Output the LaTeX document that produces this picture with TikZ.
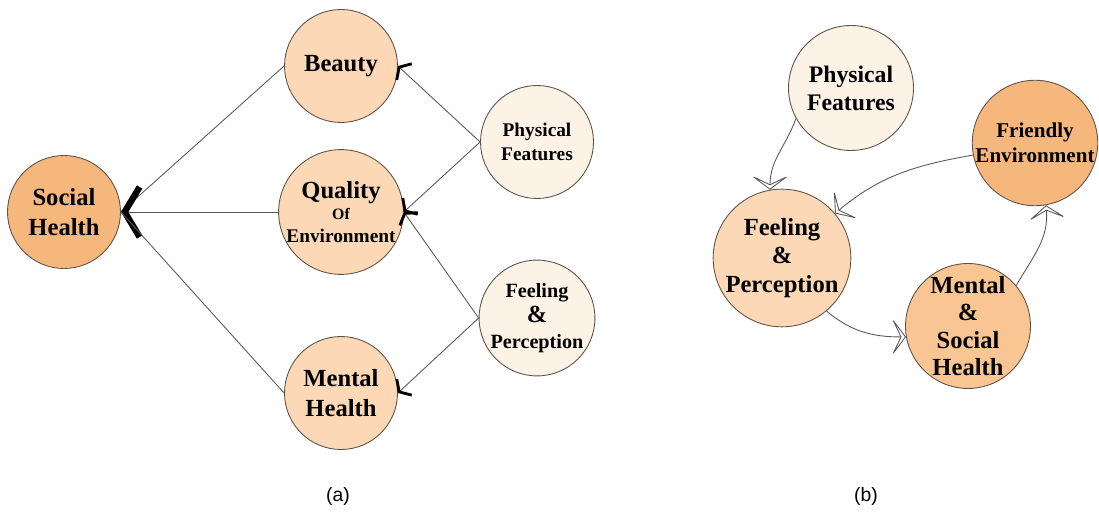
\documentclass[tikz,border=0pt]{standalone}
\usepackage{fontspec}
\setmainfont{Liberation Serif}
\setsansfont{Liberation Sans}
\usetikzlibrary{arrows.meta}

\definecolor{deeppeach}{HTML}{F5B77C}
\definecolor{midpeach}{HTML}{F8C593}
\definecolor{peach}{HTML}{FCD8B6}
\definecolor{palepeach}{HTML}{FDF2E6}
\definecolor{rimgray}{HTML}{5E5248}

\begin{document}
\begin{tikzpicture}
  [
    x = 0.02cm, y = -0.02cm,
    bubble/.style = {circle, draw = rimgray, line width = 0.5pt, inner sep = 0pt, align = center},
    small/.style = {bubble, minimum size = 2.26cm},
    large/.style = {bubble, minimum size = 2.5cm},
    pt/.style 2 args = {font = \bfseries\fontsize{#1}{#2}\selectfont},
    link/.style = {draw = black!65, line width = 0.5pt},
    hub/.style = {-{Straight Barb[length = 3mm, width = 10mm, line width = 3.6pt, color = black]}},
    tip/.style = {-{Straight Barb[length = 1.4mm, width = 4.4mm, line width = 1.6pt, color = black]}},
    hollow/.style = {-{Stealth[open, fill = white, length = 3mm, width = 8mm, inset = 1.9mm]}},
  ]

  \useasboundingbox (0,0) rectangle (1099,526);

  \node [small, fill = deeppeach, pt = {14}{17}] (social) at (64,212) {Social\\Health};
  \node [small, fill = peach, pt = {14}{17}] (beauty) at (341,66) {Beauty};
  \node [small, fill = peach, pt = {14}{17}] (quality) at (341,212)
    {Quality\\[-5pt]{\fontsize{9}{10}\selectfont Of}\\[-4pt]{\fontsize{11}{12}\selectfont Environment}};
  \node [small, fill = peach, pt = {14}{17}] (mental) at (341,393) {Mental\\Health};
  \node [small, fill = palepeach, pt = {11}{14}] (physa) at (537,142) {Physical\\Features};
  \node [small, fill = palepeach, pt = {11.5}{14.5}] (feela) at (537,318)
    {Feeling\\{\fontsize{14}{14}\selectfont\&}\\Perception};

  \draw [link] (beauty.west) -- (social.east);
  \draw [link, hub] (quality.west) -- (social.east);
  \draw [link] (mental.west) -- (social.east);
  \draw [link, tip] (physa.west) -- (beauty.east);
  \draw [link, tip] (physa.west) -- (quality.east);
  \draw [link, tip] (feela.west) -- (quality.east);
  \draw [link, tip] (feela.west) -- (mental.east);

  \node [large, fill = palepeach, pt = {13.5}{16}] (physb) at (851,88) {Physical\\Features};
  \node [large, fill = deeppeach, pt = {12}{14}] (friendly) at (1035,143) {Friendly\\Environment};
  \node [large, fill = peach, pt = {14}{16}] (feelb) at (782,258) {Feeling\\\&\\Perception};
  \node [large, fill = midpeach, pt = {14}{15.5}] (mentsoc) at (968,326) {Mental\\\&\\Social\\Health};

  \draw [link, hollow] (physb.209) to [out = 250, in = 90] (feelb.100);
  \draw [link, hollow] (friendly.191) to [out = 190, in = 40] (feelb.40);
  \draw [link, hollow] (feelb.-50) to [out = -40, in = 180] (mentsoc.190);
  \draw [link, hollow] (mentsoc.40) to [out = 60, in = -85] (friendly.-80);

  \node [font = \sffamily\fontsize{11}{13}\selectfont] (capa) at (338,497) {(a)};
  \node [font = \sffamily\fontsize{11}{13}\selectfont] (capb) at (866,497) {(b)};

\end{tikzpicture}
\end{document}
